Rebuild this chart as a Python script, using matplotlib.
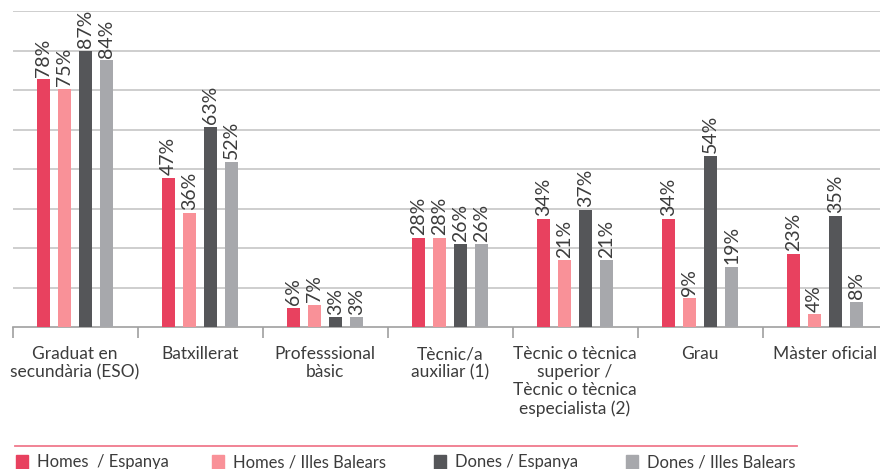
import numpy as np
import matplotlib
matplotlib.use("Agg")
import matplotlib.pyplot as plt
from matplotlib.patches import Rectangle
from matplotlib.lines import Line2D

plt.rcParams['font.family'] = ['Lato', 'DejaVu Sans']

categories = ["Graduat en\nsecundària (ESO)", "Batxillerat", "Professsional\nbàsic",
              "Tècnic/a\nauxiliar (1)",
              "Tècnic o tècnica\nsuperior /\nTècnic o tècnica\nespecialista (2)",
              "Grau", "Màster oficial"]
series_names = ["Homes  / Espanya", "Homes / Illes Balears", "Dones / Espanya", "Dones / Illes Balears"]
homes_esp = [78, 47, 6, 28, 34, 34, 23]
homes_ib = [75, 36, 7, 28, 21, 9, 4]
dones_esp = [87, 63, 3, 26, 37, 54, 35]
dones_ib = [84, 52, 3, 26, 21, 19, 8]

colors = ["#E8415F", "#F99198", "#555659", "#A7A8AC"]
series = [homes_esp, homes_ib, dones_esp, dones_ib]
txt_col = "#3c3c3c"

fig = plt.figure(figsize=(8.8, 4.69), dpi=100)
ax = fig.add_axes([12.5 / 880, (469 - 327) / 469, 875 / 880, 316.5 / 469])

x = np.arange(len(categories))
offsets = [-0.252, -0.084, 0.084, 0.252]
bw = 0.097
for vals, off, col in zip(series, offsets, colors):
    bars = ax.bar(x + off, vals, width=bw, color=col, zorder=3)
    for b, v in zip(bars, vals):
        ax.annotate(f"{v}%", (b.get_x() + b.get_width() / 2, v), xytext=(0, 2),
                    textcoords="offset points", rotation=90, ha="center", va="bottom",
                    fontsize=14, color=txt_col)

top = 99.4
ax.set_xlim(-0.5, 6.5)
ax.set_ylim(0, top + 0.3)
ax.set_yticks(np.linspace(0, top, 9)[1:])
ax.yaxis.grid(True, color="#C6C6C6", linewidth=1.2, zorder=0)
ax.tick_params(axis="y", left=False, labelleft=False)
for s in ["top", "right", "left"]:
    ax.spines[s].set_visible(False)
ax.spines["bottom"].set_color("#A0A0A0")
ax.spines["bottom"].set_linewidth(1.2)

ax.set_xticks(x)
ax.set_xticklabels(categories, fontsize=12.5, color=txt_col, linespacing=1.15)
ax.set_xticks(np.arange(-0.5, 6.6, 1), minor=True)
ax.tick_params(axis="x", which="major", length=0, pad=14)
ax.tick_params(axis="x", which="minor", length=8, color="#A0A0A0", width=1.2)

# legend
fig.add_artist(Line2D([15 / 880, 797 / 880], [(469 - 446) / 469] * 2, color="#F07A8C", lw=1.3))
leg_x = [16, 212, 434, 626]
for lx, name, col in zip(leg_x, series_names, colors):
    fig.add_artist(Rectangle((lx / 880, (469 - 469) / 469), 12 / 880, 14 / 469, color=col))
    fig.text((lx + 21) / 880, (469 - 462) / 469, name, fontsize=11.9, color=txt_col,
             va="center", ha="left")

fig.savefig("out.png", dpi=100)
